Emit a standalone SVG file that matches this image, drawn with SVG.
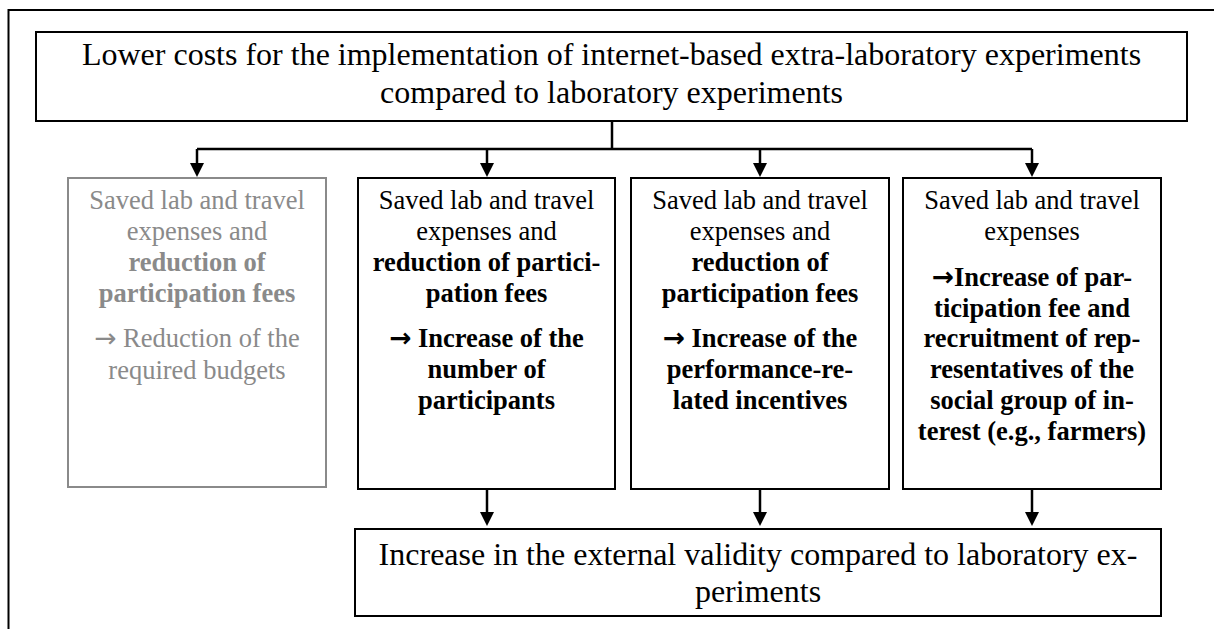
<svg xmlns="http://www.w3.org/2000/svg" width="1214" height="629" viewBox="0 0 1214 629">
  <defs>
    <marker id="arrow" markerWidth="14" markerHeight="14" refX="7" refY="7" orient="auto" markerUnits="userSpaceOnUse" viewBox="0 0 14 14">
      <path d="M0 0 L14 7 L0 14 Z" fill="#000"/>
    </marker>
    <style>
      text { font-family: "Liberation Serif", "Times New Roman", serif; text-anchor: middle; }
      .big { font-size: 32px; fill: #000; }
      .small { font-size: 26.5px; fill: #000; }
      .b { font-weight: bold; }
      .grey { fill: #8a8a8a; }
      .arr { font-family: "DejaVu Sans", sans-serif; }
      .box { fill: #fff; stroke: #000; stroke-width: 2; }
      .box-grey { fill: #fff; stroke: #8a8a8a; stroke-width: 2; }
      .conn { fill: none; stroke: #000; stroke-width: 2.5; }
    </style>
  </defs>

  <rect width="1214" height="629" fill="#fff"/>
  <!-- surrounding frame (continues past the right and bottom edges) -->
  <rect x="8.5" y="10" width="1230" height="640" fill="none" stroke="#000" stroke-width="2"/>

  <g id="connectors">
    <path class="conn" d="M612 121 V149"/>
    <path class="conn" d="M197 149 H1032"/>
    <path class="conn" d="M197 149 V170" marker-end="url(#arrow)"/>
    <path class="conn" d="M487 149 V170" marker-end="url(#arrow)"/>
    <path class="conn" d="M760 149 V170" marker-end="url(#arrow)"/>
    <path class="conn" d="M1032 149 V170" marker-end="url(#arrow)"/>
    <path class="conn" d="M487 489 V519" marker-end="url(#arrow)"/>
    <path class="conn" d="M760 489 V519" marker-end="url(#arrow)"/>
    <path class="conn" d="M1032 489 V519" marker-end="url(#arrow)"/>
  </g>

  <g id="top-node">
    <rect class="box" x="36" y="32" width="1151" height="89"/>
    <text class="big" x="611.5" y="65">Lower costs for the implementation of internet-based extra-laboratory experiments</text>
    <text class="big" x="611.5" y="103">compared to laboratory experiments</text>
  </g>

  <g id="node-budgets">
    <rect class="box-grey" x="68" y="178" width="258" height="309"/>
    <text class="small grey" x="197" y="209">Saved lab and travel</text>
    <text class="small grey" x="197" y="240">expenses and</text>
    <text class="small grey b" x="197" y="271">reduction of</text>
    <text class="small grey b" x="197" y="302">participation fees</text>
    <text class="small grey" x="197" y="347"><tspan class="arr">→</tspan> Reduction of the</text>
    <text class="small grey" x="197" y="379">required budgets</text>
  </g>

  <g id="node-participants">
    <rect class="box" x="358" y="178" width="257" height="311"/>
    <text class="small" x="486.5" y="209">Saved lab and travel</text>
    <text class="small" x="486.5" y="240">expenses and</text>
    <text class="small b" x="486.5" y="271">reduction of partici-</text>
    <text class="small b" x="486.5" y="302">pation fees</text>
    <text class="small b" x="486.5" y="347"><tspan class="arr">→</tspan> Increase of the</text>
    <text class="small b" x="486.5" y="378">number of</text>
    <text class="small b" x="486.5" y="409">participants</text>
  </g>

  <g id="node-incentives">
    <rect class="box" x="631" y="178" width="258" height="311"/>
    <text class="small" x="760" y="209">Saved lab and travel</text>
    <text class="small" x="760" y="240">expenses and</text>
    <text class="small b" x="760" y="271">reduction of</text>
    <text class="small b" x="760" y="302">participation fees</text>
    <text class="small b" x="760" y="347"><tspan class="arr">→</tspan> Increase of the</text>
    <text class="small b" x="760" y="378">performance-re-</text>
    <text class="small b" x="760" y="409">lated incentives</text>
  </g>

  <g id="node-recruitment">
    <rect class="box" x="903" y="178" width="258" height="311"/>
    <text class="small" x="1032" y="209">Saved lab and travel</text>
    <text class="small" x="1032" y="240">expenses</text>
    <text class="small b" x="1032" y="286"><tspan class="arr">→</tspan>Increase of par-</text>
    <text class="small b" x="1032" y="317">ticipation fee and</text>
    <text class="small b" x="1032" y="347">recruitment of rep-</text>
    <text class="small b" x="1032" y="378">resentatives of the</text>
    <text class="small b" x="1032" y="409">social group of in-</text>
    <text class="small b" x="1032" y="440">terest (e.g., farmers)</text>
  </g>

  <g id="bottom-node">
    <rect class="box" x="355" y="529" width="806" height="87"/>
    <text class="big" x="758" y="565">Increase in the external validity compared to laboratory ex-</text>
    <text class="big" x="758" y="602">periments</text>
  </g>
</svg>
